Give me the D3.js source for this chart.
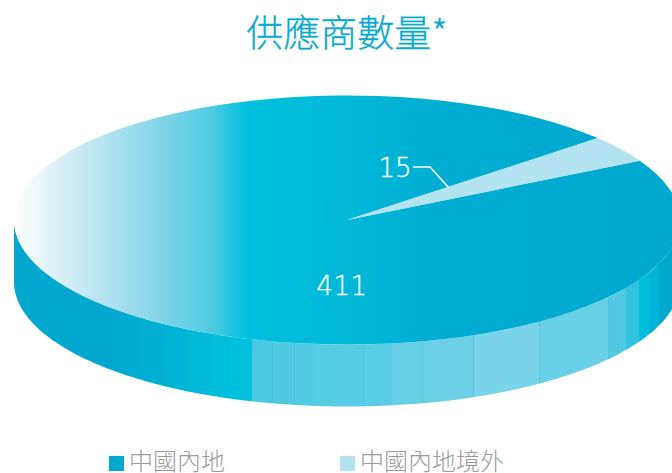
<!DOCTYPE html>
<html lang="zh-Hant">
<head>
<meta charset="utf-8">
<script src="https://cdn.jsdelivr.net/npm/d3@7/dist/d3.min.js"></script>
<style>
  html, body { margin: 0; padding: 0; background: #fff; overflow: hidden; }
  svg { display: block; }
  text { font-family: "Noto Sans CJK TC", "Noto Sans CJK SC", sans-serif; }
</style>
</head>
<body>
<svg id="chart" width="672" height="473"></svg>
<script>
// Supplier counts by region
const categories = ["中國內地", "中國內地境外"];
const values = [411, 15];
const chartTitle = "供應商數量*";

const width = 672, height = 473;
const cx = 347, cy = 220, rx = 333, ry = 124.5, depth = 62;
const colorMain = "#00a8cf", colorPale = "#b3e3f1";

const svg = d3.select("#chart").attr("viewBox", [0, 0, width, height]);
const defs = svg.append("defs");

// Horizontal sheen across the main slice of the top face
const topGrad = defs.append("linearGradient").attr("id", "topSheen")
  .attr("gradientUnits", "userSpaceOnUse")
  .attr("x1", -rx).attr("x2", rx).attr("y1", 0).attr("y2", 0);
[[0, "#ffffff"], [0.1, "#c8e9f3"], [0.2, "#8fd8ea"], [0.3, "#4bcae2"], [0.35, "#00c0dd"],
 [0.5, "#00b8d8"], [0.65, "#00acd2"], [1, "#00a8cf"]]
  .forEach(([o, c]) => topGrad.append("stop").attr("offset", o).attr("stop-color", c));

// Faceted shading of the rim: [facet end along the gradient, colour, seam colour if any]
const rimFacets = [
  [112, "#00a8cf"], [140, "#00aad0"], [165, "#00afd3"], [187, "#00b4d6"], [209, "#00b9d9"], [230, "#00bddb"], [252, "#00c1dd"],
  [273, "#4cc7e2", "#45c4e0"], [295, "#52c9e3", "#45c4e0"], [316, "#54cae4"], [340, "#56cbe4"],
  [364, "#58cbe5", "#4bc6e1"], [392, "#5acce5"], [423, "#66cfe6", "#52c8e3"], [474, "#6bd0e7", "#5ccbe4"],
  [540, "#7ad4e9", "#58cae4"], [609, "#69cfe6", "#4ec6e1"], [626, "#54c9e3"], [639, "#30c3df"],
  [649, "#00bedb"], [659, "#00b5d6"], [672, "#00a8cf"]
];
const rimGrad = defs.append("linearGradient").attr("id", "rimShade")
  .attr("gradientUnits", "userSpaceOnUse")
  .attr("x1", 0).attr("x2", width).attr("y1", 0).attr("y2", 0);
const addStop = (at, color) => rimGrad.append("stop").attr("offset", at / width).attr("stop-color", color);
let facetStart = 0;
rimFacets.forEach(([end, color, seam]) => {
  addStop(facetStart, color);
  addStop(seam ? end - 1 : end, color);
  if (seam) { addStop(end - 1, seam); addStop(end, seam); }
  facetStart = end;
});

// Wedge centred on the upper right, running clockwise from there
const paleShare = values[1] / d3.sum(values) * 2 * Math.PI;
const paleMid = (90 - 34.8) * Math.PI / 180;
const pie = d3.pie().sort(null)
  .startAngle(paleMid + paleShare / 2)
  .endAngle(paleMid + paleShare / 2 + 2 * Math.PI);
const slices = pie(values);

// Rim: the front half of the disc, extruded downward
const rimAngles = d3.range(0, 181).map(d => d * Math.PI / 180);
const ex = d3.scaleLinear().domain([-1, 1]).range([cx - rx, cx + rx]);
const ey = d3.scaleLinear().domain([-1, 1]).range([cy - ry, cy + ry]);
const rimArea = d3.area()
  .x(a => ex(Math.cos(a)))
  .y0(a => ey(Math.sin(a)))
  .y1(a => ey(Math.sin(a)) + depth);
svg.append("path").attr("d", rimArea(rimAngles)).attr("fill", "url(#rimShade)");

// Top face
const arc = d3.arc().innerRadius(0).outerRadius(rx);
const topFace = svg.append("g").attr("transform", `translate(${cx},${cy}) scale(1,${ry / rx})`);
topFace.selectAll("path").data(slices).join("path")
  .attr("d", arc)
  .attr("fill", (d, i) => i === 0 ? "url(#topSheen)" : colorPale);

// Value labels and the leader for the small slice
const numberFont = "'DejaVu Sans', sans-serif";
const valueLabels = svg.append("g").attr("fill", "#fff").attr("stroke", "#fff").attr("stroke-width", 0.35)
  .attr("font-size", 26).attr("font-weight", 200);
valueLabels.append("text").attr("x", 342).attr("y", 295).attr("text-anchor", "middle")
  .attr("letter-spacing", 0.6).style("font-family", numberFont).text(values[0]);
valueLabels.append("text").attr("x", 395).attr("y", 177).attr("text-anchor", "middle")
  .style("font-family", numberFont).text(values[1]);
svg.append("path").attr("d", d3.line()([[413, 167], [430, 167], [449, 188]]))
  .attr("fill", "none").attr("stroke", "#fff").attr("stroke-width", 1.5);

// Title
svg.append("text").attr("x", 347).attr("y", 47).attr("text-anchor", "middle")
  .attr("font-size", 37).attr("font-weight", 300).attr("fill", "#0ba9d0")
  .attr("stroke", "#0ba9d0").attr("stroke-width", 0.3).text(chartTitle);

// Legend
const legendX = d3.scaleOrdinal().domain(categories).range([109, 340]);
const legend = svg.append("g").selectAll("g").data(categories).join("g")
  .attr("transform", d => `translate(${legendX(d)},456)`);
legend.append("rect").attr("width", 15).attr("height", 15)
  .attr("fill", (d, i) => i === 0 ? colorMain : colorPale);
legend.append("text").attr("x", 20).attr("y", 14).attr("font-size", 24).attr("font-weight", 300)
  .attr("fill", "#9a9a9a").text(d => d);
</script>
</body>
</html>
